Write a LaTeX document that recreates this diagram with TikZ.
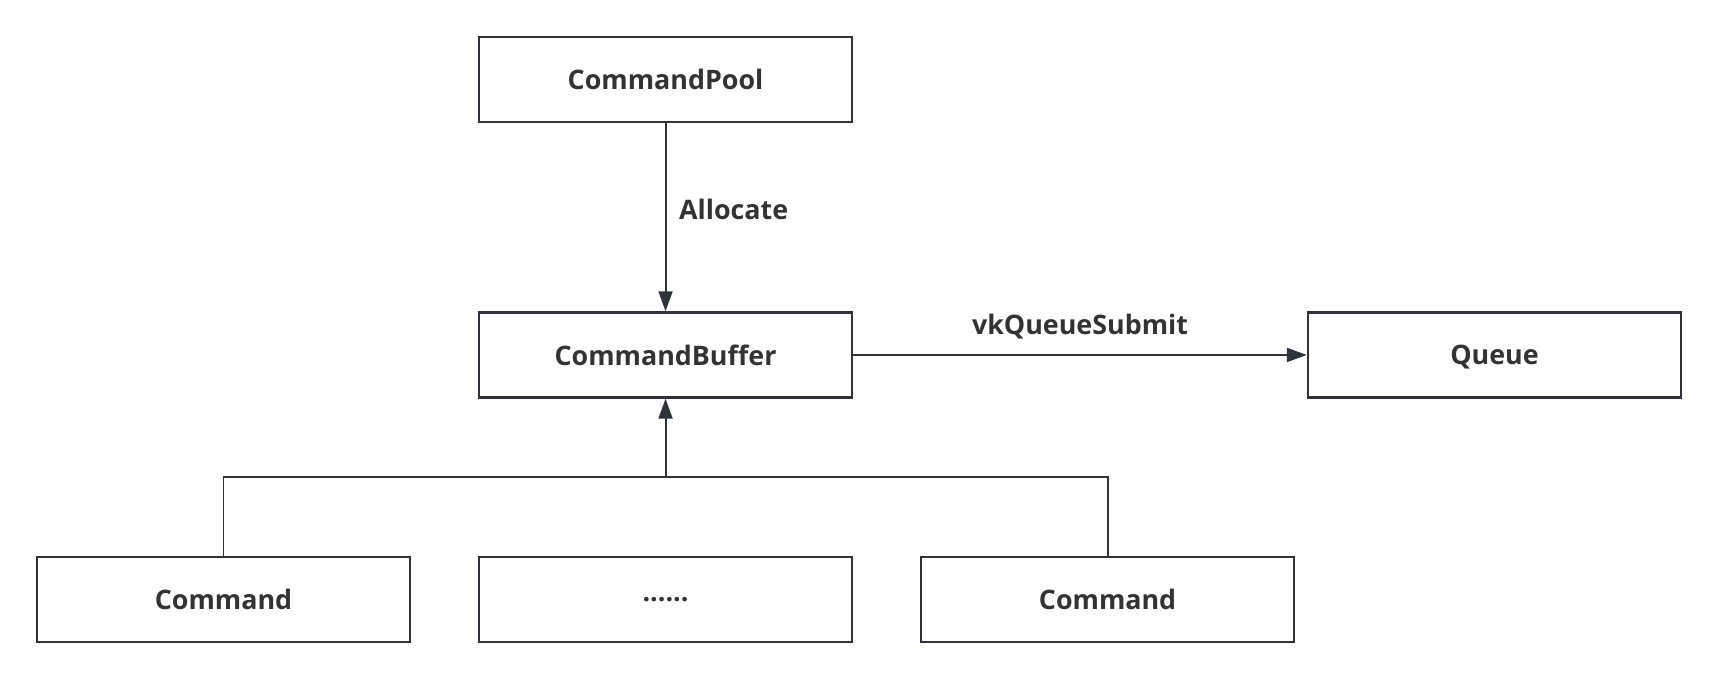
\documentclass[tikz,border=0pt]{standalone}
\usepackage{fontspec}
\setmainfont{Open Sans}
\usetikzlibrary{positioning}
\usetikzlibrary{calc}
\usetikzlibrary{arrows.meta}
\definecolor{linegray}{HTML}{30343A}
\definecolor{textgray}{HTML}{333333}
\tikzset{
    box/.style={draw=linegray,line width=1.2pt,minimum width=187.5pt,minimum height=42.75pt,
        text depth=0pt,text=textgray,font=\fontsize{13.5}{16}\selectfont\bfseries},
    link/.style={draw=linegray,line width=1pt},
    flow/.style={link,-{Triangle[length=10pt,width=7pt]}},
    tag/.style={text=textgray,font=\fontsize{13.5}{16}\selectfont\bfseries}
}

\begin{document}
\begin{tikzpicture}
            \node (pool)   [box]                        {CommandPool};
            \node (buffer) [box,below=94.5pt of pool]    {CommandBuffer};
            \node (queue)  [box,right=228pt of buffer]   {Queue};
            \node (dots)   [box,below=79pt of buffer]    {......};
            \node (cmdA)   [box,left=33.5pt of dots]     {Command};
            \node (cmdB)   [box,right=33.5pt of dots]    {Command};

            \draw[flow] (pool) -- node[tag,right=3pt,pos=0.46] (alloc) {Allocate} (buffer);
            \draw[flow] (buffer) -- node[tag,above=4pt] (submit) {vkQueueSubmit} (queue);

            % commands join on one bus
            \coordinate (bus) at ($(buffer.south)!0.5!(dots.north)$);
            \draw[link] (cmdA.north) |- (bus) -| (cmdB.north);
            \draw[flow] (bus) -- (buffer.south);

            \useasboundingbox ($(cmdA.south west)+(-18pt,-20pt)$) rectangle ($(queue.east |- pool.north)+(18.5pt,18pt)$);
        \end{tikzpicture}
\end{document}
